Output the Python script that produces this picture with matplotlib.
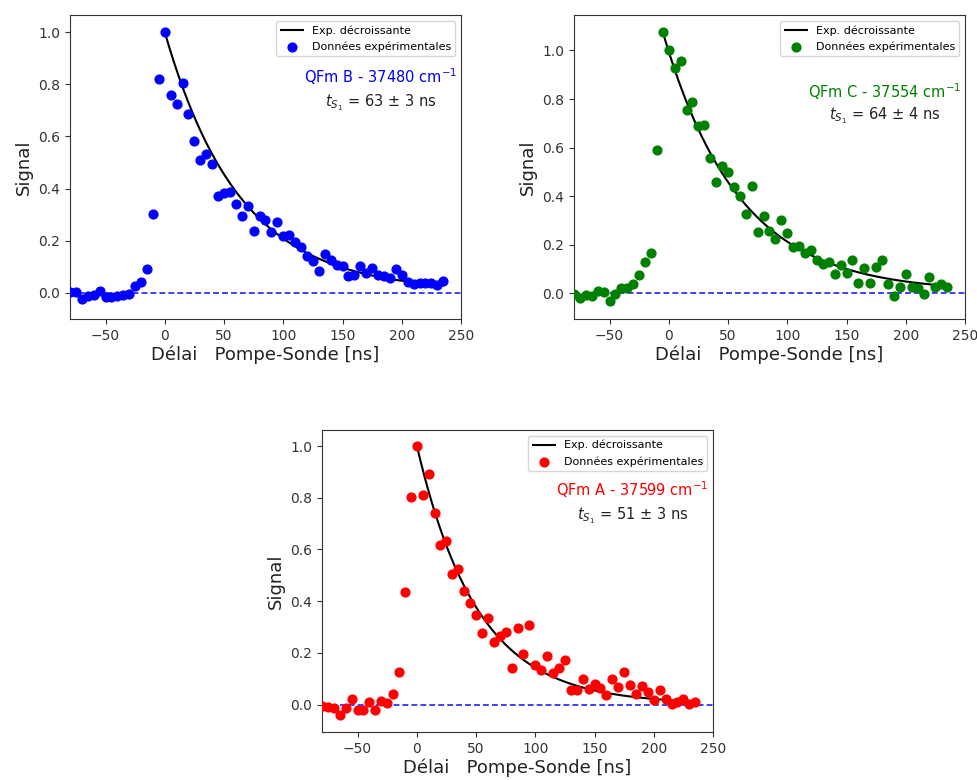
import numpy as np
import matplotlib
matplotlib.use("Agg")
import matplotlib.pyplot as plt

# Delay grid (ns)
delay = [-80, -75, -70, -65, -60, -55, -50, -45, -40, -35, -30, -25, -20, -15, -10, -5,
         0, 5, 10, 15, 20, 25, 30, 35, 40, 45, 50, 55, 60, 65, 70, 75, 80, 85, 90, 95,
         100, 105, 110, 115, 120, 125, 130, 135, 140, 145, 150, 155, 160, 165, 170, 175,
         180, 185, 190, 195, 200, 205, 210, 215, 220, 225, 230, 235]

signal_B = [0.005, 0.002, -0.023, -0.012, -0.008, 0.006, -0.015, -0.015, -0.012, -0.008,
            -0.003, 0.026, 0.040, 0.090, 0.304, 0.820, 1.000, 0.760, 0.725, 0.807,
            0.687, 0.581, 0.508, 0.534, 0.496, 0.373, 0.383, 0.386, 0.342, 0.294,
            0.332, 0.236, 0.296, 0.278, 0.232, 0.273, 0.220, 0.223, 0.194, 0.176,
            0.143, 0.121, 0.083, 0.150, 0.128, 0.109, 0.102, 0.064, 0.070, 0.102,
            0.077, 0.096, 0.070, 0.064, 0.057, 0.092, 0.070, 0.041, 0.036, 0.038,
            0.038, 0.038, 0.032, 0.045]

signal_C = [-0.003, -0.020, -0.007, -0.010, 0.011, 0.007, -0.030, -0.003, 0.020, 0.020,
            0.038, 0.075, 0.130, 0.165, 0.590, 1.074, 1.000, 0.927, 0.955, 0.755,
            0.786, 0.690, 0.694, 0.556, 0.460, 0.525, 0.500, 0.437, 0.400, 0.327,
            0.440, 0.254, 0.319, 0.258, 0.223, 0.300, 0.247, 0.190, 0.195, 0.165,
            0.179, 0.137, 0.121, 0.130, 0.080, 0.117, 0.085, 0.135, 0.044, 0.103,
            0.044, 0.110, 0.137, 0.038, -0.011, 0.027, 0.080, 0.027, 0.020, -0.003,
            0.066, 0.025, 0.038, 0.027]

signal_A = [-0.006, -0.009, -0.015, -0.041, -0.012, 0.023, -0.019, -0.019, 0.010, -0.019,
            0.014, 0.006, 0.040, 0.126, 0.436, 0.804, 1.000, 0.810, 0.890, 0.740,
            0.617, 0.634, 0.507, 0.526, 0.440, 0.394, 0.345, 0.275, 0.333, 0.243,
            0.265, 0.282, 0.143, 0.297, 0.195, 0.306, 0.152, 0.133, 0.187, 0.123,
            0.143, 0.174, 0.058, 0.058, 0.100, 0.062, 0.081, 0.066, 0.036, 0.100,
            0.068, 0.126, 0.075, 0.040, 0.071, 0.049, 0.019, 0.055, 0.023, 0.001,
            0.010, 0.023, 0.001, 0.010]

# Exponential fit parameters: (start delay, amplitude, tau, offset)
fit_B = (0, 0.995, 63, 0.005)
fit_C = (-5, 1.07, 64, 0.005)
fit_A = (0, 1.0, 51, 0.002)

labels = ["QFm B - 37480 cm$^{-1}$", "QFm C - 37554 cm$^{-1}$", "QFm A - 37599 cm$^{-1}$"]
taus = ["$t_{S_1}$ = 63 ± 3 ns", "$t_{S_1}$ = 64 ± 4 ns", "$t_{S_1}$ = 51 ± 3 ns"]
colors = ["b", "g", "r"]
signals = [signal_B, signal_C, signal_A]
fits = [fit_B, fit_C, fit_A]
ylims = [(-0.1, 1.066), (-0.106, 1.146), (-0.106, 1.062)]
xticks = [-50, 0, 50, 100, 150, 200, 250]

W, H = 978, 780
fig = plt.figure(figsize=(W / 100, H / 100), dpi=100)
rects = [
    (70 / W, 1 - 319 / H, 391 / W, 304 / H),
    (574 / W, 1 - 319 / H, 391 / W, 304 / H),
    (322 / W, 1 - 732 / H, 391 / W, 302 / H),
]

for k in range(3):
    ax = fig.add_axes(rects[k])
    t0, A, tau, c = fits[k]
    xf = np.linspace(t0, delay[-1], 300)
    ax.plot(xf, A * np.exp(-(xf - t0) / tau) + c, color="black", lw=1.5,
            label="Exp. décroissante")
    ax.scatter(delay, signals[k], color=colors[k], s=40, label="Données expérimentales",
               zorder=3)
    ax.axhline(0, color="b", ls=(0, (3.0, 1.6)), lw=1.4, alpha=0.75)
    ax.set_xlim(-80, 250)
    ax.set_ylim(*ylims[k])
    ax.set_xticks(xticks)
    ax.set_yticks([0.0, 0.2, 0.4, 0.6, 0.8, 1.0])
    ax.tick_params(labelsize=10, colors="#333333")
    for s in ax.spines.values():
        s.set_color("#333333")
    ax.set_xlabel("Délai   Pompe-Sonde [ns]", fontsize=13, color="#222222", labelpad=2)
    ax.set_ylabel("Signal", fontsize=13, color="#222222")
    ax.legend(loc="upper right", fontsize=8, framealpha=0.8)
    ax.text(182, 0.83, labels[k], color=colors[k], fontsize=10.5, ha="center", va="center")
    ax.text(182, 0.73, taus[k], color="#222222", fontsize=10.5, ha="center", va="center")

fig.savefig("out.png", dpi=100)
